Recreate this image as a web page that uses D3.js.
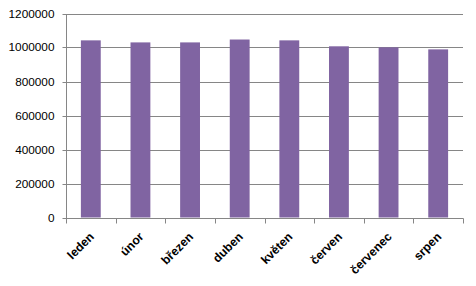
<!DOCTYPE html>
<html>
<head>
<meta charset="utf-8">
<script src="https://cdn.jsdelivr.net/npm/d3@7"></script>
<style>
  body { margin: 0; background: #fff; }
  svg { display: block; }
  .ylab { font-family: "Liberation Sans", Arial, sans-serif; font-size: 11.8px; fill: #000; }
  .xlab { font-family: "Liberation Sans", Arial, sans-serif; font-size: 12.2px; font-weight: bold; fill: #000; }
</style>
</head>
<body>
<div id="chart"></div>
<script>
// months and values
var months = ["leden", "únor", "březen", "duben", "květen", "červen", "červenec", "srpen"];
var values = [1042000, 1030000, 1030000, 1047000, 1042000, 1007000, 1001000, 989000];
var yTicks = [0, 200000, 400000, 600000, 800000, 1000000, 1200000];

var svgWidth = 476;
var svgHeight = 286;
var plotLeft = 66, plotRight = 463, plotTop = 13.5, plotBottom = 217.5;
var gray = "#868686";

var svg = d3.select("#chart").append("svg")
    .attr("width", svgWidth)
    .attr("height", svgHeight);

var y = d3.scaleLinear()
    .domain([0, 1200000])
    .range([plotBottom, plotTop]);

var x = d3.scaleBand()
    .domain(months)
    .range([plotLeft, plotRight])
    .paddingInner(0.6)
    .paddingOuter(0.3);

var y0 = Math.round(y(0)) + 0.5;

// grid lines
svg.append("g")
    .selectAll("line")
    .data(yTicks.slice(1))
    .enter()
    .append("line")
    .attr("x1", plotLeft)
    .attr("x2", plotRight)
    .attr("y1", function(d) { return Math.round(y(d)) + 0.5; })
    .attr("y2", function(d) { return Math.round(y(d)) + 0.5; })
    .attr("stroke", gray)
    .attr("stroke-width", 1);

// bars
svg.append("g")
    .selectAll("rect")
    .data(values)
    .enter()
    .append("rect")
    .attr("x", function(d, i) { return x(months[i]); })
    .attr("width", x.bandwidth())
    .attr("y", function(d) { return y(d); })
    .attr("height", function(d) { return y(0) - y(d); })
    .attr("fill", "#8064A2");

// y axis
var yAxis = svg.append("g")
    .attr("transform", "translate(" + (plotLeft + 0.5) + ",0)")
    .call(d3.axisLeft(y).tickValues(yTicks).tickSize(4).tickPadding(8).tickFormat(d3.format("d")));
yAxis.select(".domain").attr("stroke", gray).attr("d", "M0," + (Math.round(y(1200000)) + 0.5) + "V" + y0);
yAxis.selectAll(".tick").attr("transform", function(d) { return "translate(0," + (Math.round(y(d)) + 0.5) + ")"; });
yAxis.selectAll(".tick line").attr("stroke", gray);
yAxis.selectAll(".tick text").attr("class", "ylab").attr("font-family", null).attr("font-size", null).attr("fill", null);
yAxis.attr("font-family", null).attr("font-size", null);

// x axis line and category boundary ticks
var xg = svg.append("g");
xg.append("line")
    .attr("x1", plotLeft).attr("x2", plotRight + 0.5)
    .attr("y1", y0).attr("y2", y0)
    .attr("stroke", gray);
xg.selectAll(".btick")
    .data(d3.range(months.length + 1))
    .enter()
    .append("line")
    .attr("class", "btick")
    .attr("x1", function(i) { return Math.round(plotLeft + i * x.step()) + 0.5; })
    .attr("x2", function(i) { return Math.round(plotLeft + i * x.step()) + 0.5; })
    .attr("y1", y0)
    .attr("y2", y0 + 5)
    .attr("stroke", gray);

// rotated month labels
xg.selectAll(".xlab")
    .data(months)
    .enter()
    .append("text")
    .attr("class", "xlab")
    .attr("text-anchor", "end")
    .attr("transform", function(d) {
        return "translate(" + (x(d) + x.bandwidth() / 2 + 4) + "," + (y(0) + 20) + ") rotate(-45)";
    })
    .text(function(d) { return d; });
</script>
</body>
</html>
